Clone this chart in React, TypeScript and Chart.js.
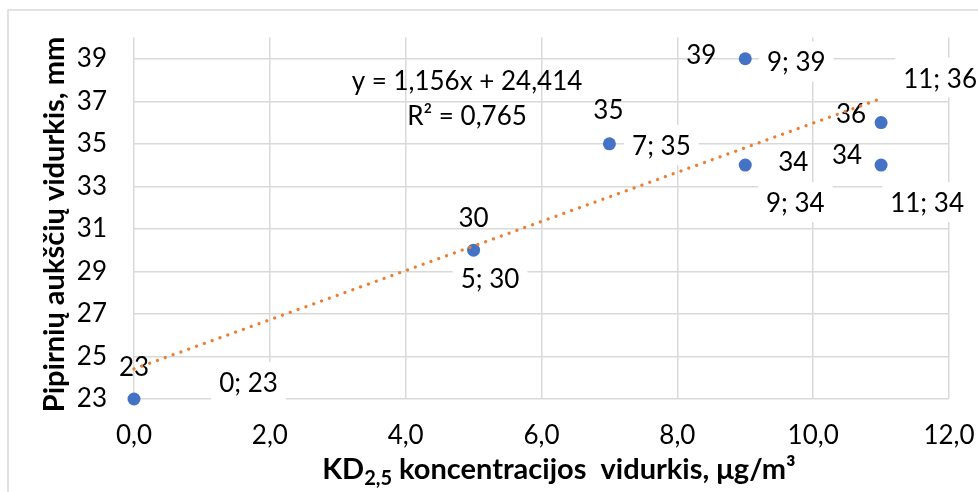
import React, { useEffect, useRef } from 'react';
import { Chart, registerables } from 'chart.js';

Chart.register(...registerables);

// ---- data ----
const xValues = [0, 5, 7, 9, 9, 11, 11];
const yValues = [23, 30, 35, 39, 34, 36, 34];
const xTickValues = [0, 2, 4, 6, 8, 10, 12];
const yTickValues = [23, 25, 27, 29, 31, 33, 35, 37, 39];
const xMin = 0;
const xMax = 12;
const yMin = 23;
const yMax = 40;
const equationText = 'y = 1,156x + 24,414';
const r2Text = 'R² = 0,765';
const yTitle = 'Pipirnių aukščių vidurkis, mm';
const xTitleMain = 'KD';
const xTitleSub = '2,5';
const xTitleRest = ' koncentracijos  vidurkis, μg/m³';

// ---- styling ----
const FONT = 'Lato, "Noto Sans", sans-serif';
const LABEL_SIZE = 26;
const TITLE_SIZE = 29;
const POINT_COLOR = '#4472C4';
const TREND_COLOR = '#ED7D31';
const GRID_COLOR = '#d9d9d9';
const TEXT_COLOR = '#000000';

// label placements (pixel offsets of label centres from their point)
const valueLabelOffsets: [number, number][] = [
  [0, -33.5],
  [0, -33.5],
  [-1, -35],
  [-44, -4.5],
  [48, -4],
  [-30, -10],
  [-34, -11],
];
const pairLabelOffsets: [number, number][] = [
  [114.5, -17],
  [16.5, 28],
  [52, 1],
  [51, 2.5],
  [50, 37],
  [59, -45],
  [46, 37],
];

function fmtComma(v: number, digits: number) {
  return v.toFixed(digits).replace('.', ',');
}

// least-squares trendline from the data (Excel's linear trendline)
function regression(xs: number[], ys: number[]) {
  const n = xs.length;
  const mx = xs.reduce((a, b) => a + b, 0) / n;
  const my = ys.reduce((a, b) => a + b, 0) / n;
  let sxy = 0;
  let sxx = 0;
  for (let i = 0; i < n; i++) {
    sxy += (xs[i] - mx) * (ys[i] - my);
    sxx += (xs[i] - mx) * (xs[i] - mx);
  }
  const slope = sxy / sxx;
  return { slope, intercept: my - slope * mx };
}

function centeredText(ctx: CanvasRenderingContext2D, text: string, cx: number, cy: number) {
  const h = ctx.measureText('0').actualBoundingBoxAscent;
  ctx.fillText(text, cx, cy + h / 2);
}

const decorPlugin = {
  id: 'decor',
  beforeDraw(chart: any) {
    const ctx: CanvasRenderingContext2D = chart.ctx;
    ctx.save();
    ctx.fillStyle = '#ffffff';
    ctx.fillRect(0, 0, chart.width, chart.height);
    ctx.strokeStyle = GRID_COLOR;
    ctx.lineWidth = 1.5;
    ctx.beginPath();
    ctx.moveTo(8, chart.height + 5);
    ctx.lineTo(8, 10);
    ctx.lineTo(chart.width + 5, 10);
    ctx.stroke();
    ctx.restore();
  },
  beforeDatasetsDraw(chart: any) {
    const ctx: CanvasRenderingContext2D = chart.ctx;
    const xs = chart.scales.x;
    const ys = chart.scales.y;
    ctx.save();
    ctx.font = `${LABEL_SIZE}px ${FONT}`;
    ctx.textAlign = 'center';
    ctx.textBaseline = 'alphabetic';
    for (let i = 0; i < xValues.length; i++) {
      const px = xs.getPixelForValue(xValues[i]);
      const py = ys.getPixelForValue(yValues[i]);
      const [vdx, vdy] = valueLabelOffsets[i];
      ctx.fillStyle = TEXT_COLOR;
      centeredText(ctx, String(yValues[i]), px + vdx, py + vdy);
      const txt = `${xValues[i]}; ${yValues[i]}`;
      const [pdx, pdy] = pairLabelOffsets[i];
      const w = ctx.measureText(txt).width + 16;
      ctx.fillStyle = '#ffffff';
      ctx.fillRect(px + pdx - w / 2, py + pdy - 20, w, 40);
      ctx.fillStyle = TEXT_COLOR;
      centeredText(ctx, txt, px + pdx, py + pdy);
    }
    ctx.fillStyle = TEXT_COLOR;
    centeredText(ctx, equationText, 467, 80);
    centeredText(ctx, r2Text, 467, 115);
    ctx.restore();
  },
  afterDraw(chart: any) {
    const ctx: CanvasRenderingContext2D = chart.ctx;
    ctx.save();
    ctx.fillStyle = TEXT_COLOR;
    ctx.font = `bold ${TITLE_SIZE}px ${FONT}`;
    ctx.translate(55, 224.5);
    ctx.rotate(-Math.PI / 2);
    ctx.textAlign = 'center';
    ctx.textBaseline = 'middle';
    ctx.fillText(yTitle, 0, 0);
    ctx.restore();

    ctx.save();
    ctx.fillStyle = TEXT_COLOR;
    ctx.textAlign = 'left';
    ctx.textBaseline = 'alphabetic';
    const mainFont = `bold ${TITLE_SIZE}px ${FONT}`;
    const subFont = `bold ${Math.round(TITLE_SIZE * 0.68)}px ${FONT}`;
    ctx.font = mainFont;
    const w1 = ctx.measureText(xTitleMain).width;
    const w3 = ctx.measureText(xTitleRest).width;
    ctx.font = subFont;
    const w2 = ctx.measureText(xTitleSub).width;
    const total = w1 + w2 + w3;
    let x = 559 - total / 2;
    const baseline = 479;
    ctx.font = mainFont;
    ctx.fillText(xTitleMain, x, baseline);
    x += w1;
    ctx.font = subFont;
    ctx.fillText(xTitleSub, x, baseline + 6);
    x += w2;
    ctx.font = mainFont;
    ctx.fillText(xTitleRest, x, baseline);
    ctx.restore();
  },
};

export default function App() {
  const canvasRef = useRef<HTMLCanvasElement | null>(null);

  useEffect(() => {
    if (!canvasRef.current) return;
    const { slope, intercept } = regression(xValues, yValues);
    const xStart = Math.min(...xValues);
    const xEnd = Math.max(...xValues);
    const points = xValues.map((x, i) => ({ x, y: yValues[i] }));
    const trend = [
      { x: xStart, y: slope * xStart + intercept },
      { x: xEnd, y: slope * xEnd + intercept },
    ];
    const tickFont = { family: FONT, size: LABEL_SIZE };
    const chart = new Chart(canvasRef.current, {
      type: 'scatter',
      data: {
        datasets: [
          {
            type: 'scatter',
            data: points,
            backgroundColor: POINT_COLOR,
            borderWidth: 0,
            pointRadius: 6.5,
            clip: false,
            order: 2,
          } as any,
          {
            type: 'line',
            data: trend,
            borderColor: TREND_COLOR,
            borderWidth: 3.3,
            borderDash: [0.01, 8.3],
            borderCapStyle: 'round',
            pointRadius: 0,
            fill: false,
            clip: false,
            order: 1,
          } as any,
        ],
      },
      options: {
        responsive: false,
        animation: false,
        devicePixelRatio: 1,
        layout: { padding: { left: 0, top: 37.5, right: 29, bottom: 0 } },
        plugins: {
          legend: { display: false },
          tooltip: { enabled: false },
          title: { display: false },
        },
        scales: {
          x: {
            type: 'linear',
            min: xMin,
            max: xMax,
            afterBuildTicks: (scale: any) => {
              scale.ticks = xTickValues.map((v) => ({ value: v }));
            },
            afterFit: (scale: any) => {
              scale.height = 93;
              scale.paddingLeft = 0;
              scale.paddingRight = 0;
              scale.paddingTop = 0;
              scale.paddingBottom = 0;
            },
            grid: { color: GRID_COLOR, lineWidth: 1.5, drawTicks: false },
            border: { display: false },
            ticks: {
              font: tickFont,
              color: TEXT_COLOR,
              padding: 21,
              maxRotation: 0,
              autoSkip: false,
              callback: (v: any) => fmtComma(Number(v), 1),
            },
          },
          y: {
            type: 'linear',
            min: yMin,
            max: yMax,
            afterBuildTicks: (scale: any) => {
              scale.ticks = yTickValues.map((v) => ({ value: v }));
            },
            afterFit: (scale: any) => {
              scale.width = 134;
              scale.paddingLeft = 0;
              scale.paddingRight = 0;
              scale.paddingTop = 0;
              scale.paddingBottom = 0;
            },
            grid: { color: GRID_COLOR, lineWidth: 1.5, drawTicks: false },
            border: { display: false },
            ticks: {
              font: tickFont,
              color: TEXT_COLOR,
              padding: 27,
              autoSkip: false,
              callback: (v: any) => String(v),
            },
          },
        },
      },
      plugins: [decorPlugin],
    });
    return () => chart.destroy();
  }, []);

  return (
    <div style={{ position: 'absolute', left: 0, top: 0, width: 978, height: 492, background: '#fff' }}>
      <canvas ref={canvasRef} width={978} height={492} style={{ display: 'block' }} />
    </div>
  );
}
